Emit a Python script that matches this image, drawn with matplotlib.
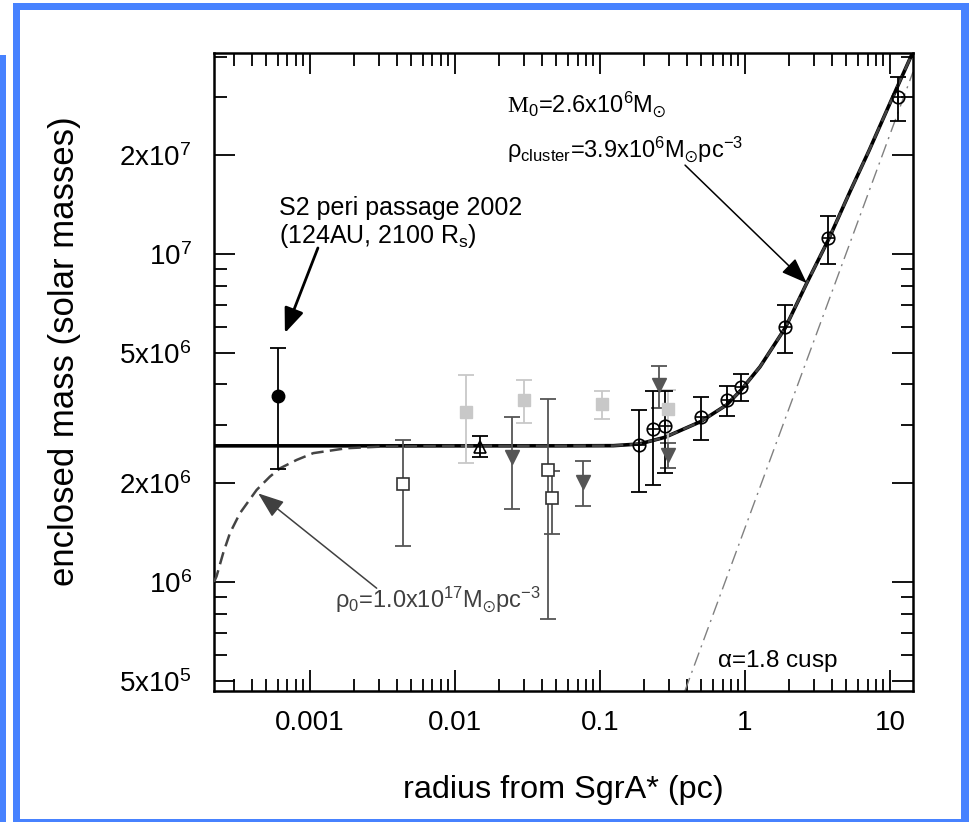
import matplotlib
matplotlib.use("Agg")
import matplotlib.pyplot as plt
from matplotlib.patches import Rectangle
from matplotlib.ticker import FixedLocator, FixedFormatter, NullFormatter

plt.rcParams['font.family'] = ['Liberation Sans', 'DejaVu Sans']
plt.rcParams['mathtext.fontset'] = 'custom'
plt.rcParams['mathtext.rm'] = 'Liberation Sans'
plt.rcParams['mathtext.it'] = 'Liberation Sans'
plt.rcParams['mathtext.tt'] = 'Liberation Serif'
plt.rcParams['mathtext.default'] = 'regular'

# ---------------- data ----------------
# S2 pericentre passage
s2_r = [6.0e-4]
s2_m = [3.7e6]
s2_lo = [2.21e6]
s2_hi = [5.16e6]

# open squares
sq_r = [4.36e-3, 0.0440, 0.0469]
sq_m = [1.99e6, 2.19e6, 1.80e6]
sq_lo = [1.29e6, 7.7e5, 1.40e6]
sq_hi = [2.70e6, 3.61e6, 2.18e6]

# light grey filled squares
lsq_r = [0.0119, 0.0299, 0.1028, 0.296]
lsq_m = [3.29e6, 3.59e6, 3.49e6, 3.36e6]
lsq_lo = [2.30e6, 3.06e6, 3.14e6, 2.22e6]
lsq_hi = [4.27e6, 4.13e6, 3.83e6, 3.85e6]

# dark grey down triangles
tri_r = [0.0248, 0.0767, 0.256, 0.296]
tri_m = [2.41e6, 2.02e6, 3.99e6, 2.44e6]
tri_lo = [1.67e6, 1.71e6, 3.39e6, 2.22e6]
tri_hi = [3.19e6, 2.34e6, 4.56e6, 2.66e6]

# open up triangle
otri_r = [0.01486]
otri_m = [2.585e6]
otri_lo = [2.40e6]
otri_hi = [2.79e6]

# circles with plus
cir_r = [0.1867, 0.233, 0.2807, 0.4947, 0.748, 0.938, 1.888, 3.72, 11.3]
cir_m = [2.617e6, 2.92e6, 2.99e6, 3.19e6, 3.59e6, 3.94e6, 5.98e6, 1.117e7, 3.0e7]
cir_lo = [1.88e6, 1.98e6, 2.15e6, 2.71e6, 3.21e6, 3.56e6, 4.98e6, 9.30e6, 2.54e7]
cir_hi = [3.34e6, 3.83e6, 3.83e6, 3.66e6, 3.96e6, 4.30e6, 6.99e6, 1.306e7, 3.47e7]

# model: point mass + cluster (solid)
fit_r = [2.18e-4, 0.01, 0.0501, 0.1236, 0.1866, 0.2805, 0.4948, 0.748, 0.9384,
         1.269, 1.888, 2.665, 3.754, 5.297, 7.161, 10.0, 14.26]
fit_m = [2.6e6, 2.6e6, 2.6e6, 2.603e6, 2.634e6, 2.761e6, 3.083e6, 3.467e6, 3.846e6,
         4.529e6, 5.936e6, 8.147e6, 1.104e7, 1.549e7, 2.065e7, 2.884e7, 4.093e7]

# model: dense central cluster rho0 (dashed)
dfit_r = [2.18e-4, 2.27e-4, 2.52e-4, 2.81e-4, 3.29e-4, 4.29e-4, 5.29e-4, 6.21e-4,
          8.1e-4, 1.054e-3, 1.79e-3, 3.04e-3,
          0.01, 0.0501, 0.1236, 0.1866, 0.2805, 0.4948, 0.748, 0.9384,
          1.269, 1.888, 2.665, 3.754, 5.297, 7.161, 10.0, 14.26]
dfit_m = [1.0e6, 1.04e6, 1.223e6, 1.41e6, 1.62e6, 1.908e6, 2.094e6, 2.22e6,
          2.355e6, 2.47e6, 2.557e6, 2.585e6,
          2.6e6, 2.6e6, 2.603e6, 2.634e6, 2.761e6, 3.083e6, 3.467e6, 3.846e6,
          4.529e6, 5.936e6, 8.147e6, 1.104e7, 1.549e7, 2.065e7, 2.884e7, 4.093e7]

# alpha = 1.8 cusp
cusp_r = [0.385, 14.4]
cusp_m = [4.65e5, 3.59e7]

xtick_vals = [0.001, 0.01, 0.1, 1, 10]
xtick_labels = ['0.001', '0.01', '0.1', '1', '10']
xminor_vals = [m * 10.0 ** e for e in range(-4, 2) for m in range(2, 10)]
ytick_vals = [5e5, 1e6, 2e6, 5e6, 1e7, 2e7]
ytick_labels = ['5x10$^5$', '10$^6$', '2x10$^6$', '5x10$^6$', '10$^7$', '2x10$^7$']
yminor_vals = [6e5, 7e5, 8e5, 9e5, 3e6, 4e6, 6e6, 7e6, 8e6, 9e6, 3e7, 4e7]

# ---------------- figure ----------------
W, H = 969, 822
fig = plt.figure(figsize=(W / 100, H / 100), dpi=100)
fig.patch.set_facecolor('white')

blue = '#4782ff'
def frect(x0, y0, x1, y1):
    fig.patches.append(Rectangle((x0 / W, 1 - y1 / H), (x1 - x0) / W, (y1 - y0) / H,
                                 transform=fig.transFigure, facecolor=blue,
                                 edgecolor='none', zorder=0))
frect(13, 3, 969, 10)      # top
frect(13, 3, 20, 822)      # left
frect(961, 3, 969, 822)    # right
frect(13, 819, 969, 822)   # bottom
frect(0, 55, 6, 822)       # neighbouring frame

ax = fig.add_axes([214 / W, 1 - 691 / H, (913 - 214) / W, (691 - 53) / H])
ax.set_xscale('log')
ax.set_yscale('log')
ax.set_xlim(2.18e-4, 14.4)
ax.set_ylim(4.65e5, 4.10e7)

# curves
ax.plot(cusp_r, cusp_m, color='#808080', lw=1.0, ls=(0, (10, 4, 1.5, 4)), zorder=2)
ax.plot(fit_r, fit_m, color='black', lw=2.6, zorder=3, solid_capstyle='butt',
        solid_joinstyle='round')
ax.plot(dfit_r, dfit_m, color='#444444', lw=1.8, ls=(0, (5, 2.5)), zorder=3.5)

def eb(r, m, lo, hi, color):
    yerr = [[a - b for a, b in zip(m, lo)], [b - a for a, b in zip(m, hi)]]
    ax.errorbar(r, m, yerr=yerr, fmt='none', ecolor=color, elinewidth=1.3,
                capsize=6, capthick=1.3, zorder=4)

eb(lsq_r, lsq_m, lsq_lo, lsq_hi, '#c8c8c8')
ax.plot(lsq_r, lsq_m, 's', ms=9, color='#c8c8c8', mec='#c8c8c8', zorder=4.5)
eb(sq_r, sq_m, sq_lo, sq_hi, '#555555')
ax.plot(sq_r, sq_m, 's', ms=8.5, mfc='white', mec='#333333', mew=1.2, zorder=5)
eb(tri_r, tri_m, tri_lo, tri_hi, '#555555')
ax.plot(tri_r, tri_m, 'v', ms=10, color='#555555', zorder=5)
eb(otri_r, otri_m, otri_lo, otri_hi, 'black')
ax.plot(otri_r, otri_m, '^', ms=8.5, mfc='none', mec='black', mew=1.2, zorder=5)
eb(cir_r, cir_m, cir_lo, cir_hi, 'black')
ax.plot(cir_r, cir_m, 'o', ms=9, mfc='none', mec='black', mew=1.2, zorder=6)
ax.plot(cir_r, cir_m, '+', ms=9, color='black', mew=1.2, zorder=6)
eb(s2_r, s2_m, s2_lo, s2_hi, 'black')
ax.plot(s2_r, s2_m, 'o', ms=9, color='black', zorder=6)

# axes styling
for s in ax.spines.values():
    s.set_linewidth(1.8)
ax.xaxis.set_major_locator(FixedLocator(xtick_vals))
ax.xaxis.set_major_formatter(FixedFormatter(xtick_labels))
ax.xaxis.set_minor_locator(FixedLocator(xminor_vals))
ax.xaxis.set_minor_formatter(NullFormatter())
ax.yaxis.set_major_locator(FixedLocator(ytick_vals))
ax.yaxis.set_major_formatter(FixedFormatter(ytick_labels))
ax.yaxis.set_minor_locator(FixedLocator(yminor_vals))
ax.yaxis.set_minor_formatter(NullFormatter())
ax.tick_params(which='both', direction='in', top=True, right=True, width=1.3)
ax.tick_params(which='major', length=15, labelsize=20)
ax.tick_params(which='minor', length=9)
ax.tick_params(axis='x', which='major', pad=14)
ax.tick_params(axis='y', which='major', pad=16)

ax.set_xlabel('radius from SgrA* (pc)', fontsize=23.3, labelpad=28)
ax.set_ylabel('enclosed mass (solar masses)', fontsize=25)
ax.yaxis.set_label_coords(-0.19, 0.532)

# annotations
ax.text(6.11e-4, 1.315e7, 'S2 peri passage 2002', fontsize=18, va='baseline', ha='left')
ax.text(6.11e-4, 1.08e7, '(124AU, 2100 R$_s$)', fontsize=18, va='baseline', ha='left')
ax.annotate('', xy=(6.72e-4, 5.74e6), xytext=(1.135e-3, 1.043e7),
            arrowprops=dict(arrowstyle='-|>,head_length=1.5,head_width=0.6',
                            color='black', lw=2, shrinkA=0, shrinkB=0))

ax.text(0.0229, 2.71e7, r'$\mathtt{M}_0$=2.6x10$^6$M$_{\odot}$', fontsize=17,
        va='baseline', ha='left')
ax.text(0.0229, 1.977e7, r'$\rho_{cluster}$=3.9x10$^6$M$_{\odot}$pc$^{-3}$', fontsize=17,
        va='baseline', ha='left')
ax.annotate('', xy=(2.665, 8.15e6), xytext=(0.386, 1.866e7),
            arrowprops=dict(arrowstyle='-|>,head_length=1.6,head_width=0.6',
                            color='black', lw=1.1, shrinkA=0, shrinkB=0))

ax.text(1.486e-3, 8.41e5, r'$\rho_0$=1.0x10$^{17}$M$_{\odot}$pc$^{-3}$', fontsize=17,
        va='baseline', ha='left', color='#404040')
ax.annotate('', xy=(4.40e-4, 1.862e6), xytext=(2.884e-3, 9.57e5),
            arrowprops=dict(arrowstyle='-|>,head_length=1.6,head_width=0.6',
                            color='#404040', lw=1.1, shrinkA=0, shrinkB=0))

ax.text(0.641, 5.51e5, r'$\alpha$=1.8 cusp', fontsize=17.5, va='baseline', ha='left')

fig.savefig('out.png', dpi=100)
